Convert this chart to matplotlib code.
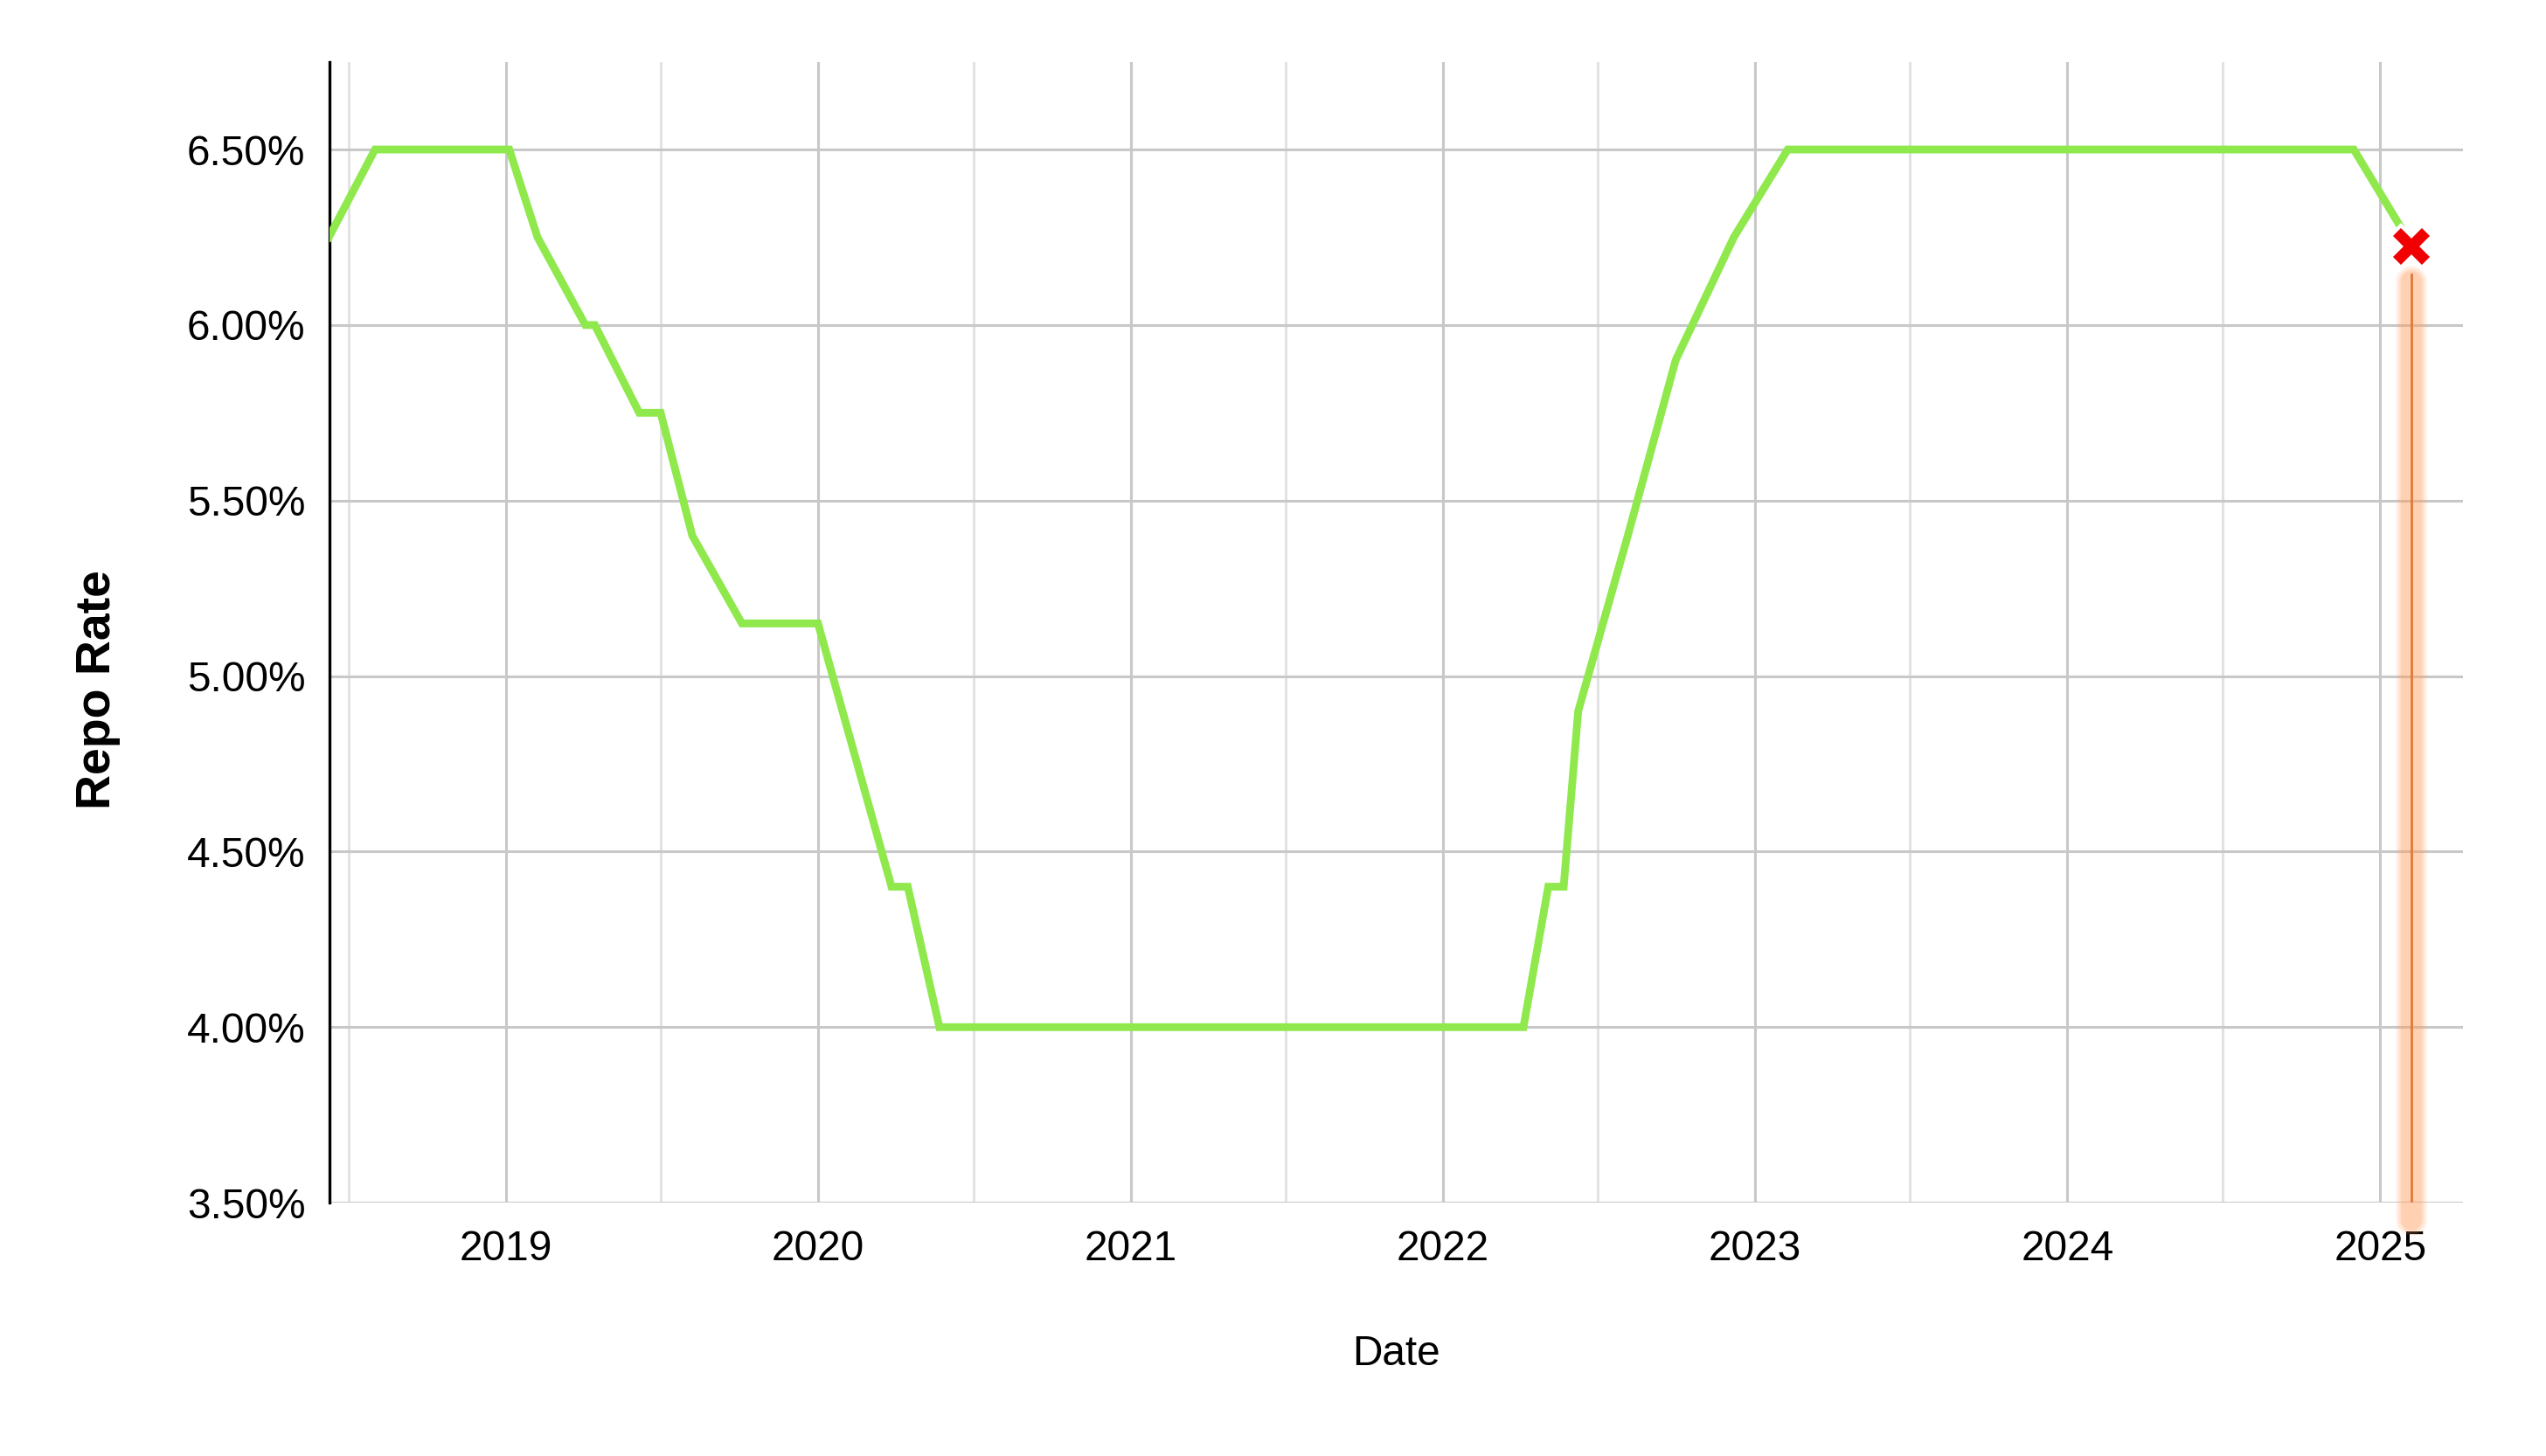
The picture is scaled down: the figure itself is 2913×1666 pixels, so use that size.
import datetime as dt
import matplotlib as mpl
import matplotlib.pyplot as plt
import matplotlib.dates as mdates
from matplotlib.ticker import FuncFormatter, MultipleLocator

mpl.rcParams["font.family"] = ["Liberation Sans", "DejaVu Sans"]

# ===== data =====
dates = ["2018-06-08", "2018-08-01", "2019-01-05", "2019-02-07", "2019-04-04",
         "2019-04-15", "2019-06-06", "2019-07-01", "2019-08-07", "2019-10-04",
         "2020-01-01", "2020-03-27", "2020-04-15", "2020-05-22", "2022-04-05",
         "2022-05-04", "2022-05-22", "2022-06-08", "2022-08-05", "2022-09-30",
         "2022-12-07", "2023-02-08", "2024-12-01", "2025-02-01"]
repo_rate = [6.25, 6.50, 6.50, 6.25, 6.00,
             6.00, 5.75, 5.75, 5.40, 5.15,
             5.15, 4.40, 4.40, 4.00, 4.00,
             4.40, 4.40, 4.90, 5.40, 5.90,
             6.25, 6.50, 6.50, 6.25]
marker_date = "2025-02-06"
marker_rate = 6.225

# ===== params =====
c_line = "#8fe84c"
c_grid_major = "#c8c8c8"
c_grid_minor = "#e2e2e2"
c_glow = "#ff9f5a"
c_vline = "#e0783a"
tick_size = 17.2

xx = [dt.datetime.strptime(d, "%Y-%m-%d") for d in dates]
xm = dt.datetime.strptime(marker_date, "%Y-%m-%d")
ymin, ymax = 3.5, 6.75

fig = plt.figure(figsize=(14.565, 8.33), dpi=200)
ax = fig.add_axes([0.1295, 0.174, 0.838, 0.7836])

# ===== grid =====
ax.xaxis.set_major_locator(mdates.YearLocator())
ax.xaxis.set_minor_locator(mdates.MonthLocator(bymonth=7))
ax.xaxis.set_major_formatter(mdates.DateFormatter("%Y"))
ax.yaxis.set_major_locator(MultipleLocator(0.5))
ax.yaxis.set_major_formatter(FuncFormatter(lambda v, p: f"{v:.2f}%"))
ax.grid(True, which="major", axis="x", color=c_grid_major, lw=1.1)
ax.grid(True, which="minor", axis="x", color=c_grid_minor, lw=1.1)
ax.grid(True, which="major", axis="y", color=c_grid_major, lw=1.1)
ax.set_axisbelow(True)

# ===== glow line at last point =====
for w, a in [(13, 0.10), (11.5, 0.12), (10, 0.15), (8.5, 0.2)]:
    ax.plot([xm, xm], [ymin - 0.05, marker_rate - 0.1], color=c_glow, lw=w,
            alpha=a, solid_capstyle="round", zorder=3, clip_on=False)
ax.plot([xm, xm], [ymin, marker_rate - 0.08], color=c_vline, lw=1.0, zorder=4)

# ===== series =====
ax.plot(xx, repo_rate, color=c_line, lw=3.2, zorder=5, solid_joinstyle="miter")
ax.plot([xm], [marker_rate], marker="X", ms=17, color="#f00000",
        markeredgecolor="white", markeredgewidth=1.5, zorder=6)

# ===== axes =====
ax.set_xlim(dt.datetime(2018, 6, 9), dt.datetime(2025, 4, 8))
ax.set_ylim(ymin, ymax)
for s in ["top", "right", "bottom"]:
    ax.spines[s].set_visible(False)
ax.spines["left"].set_color("black")
ax.spines["left"].set_linewidth(1.2)
ax.tick_params(axis="both", which="both", length=0, labelsize=tick_size,
               colors="black")
ax.tick_params(axis="x", pad=11)
ax.tick_params(axis="y", pad=10)

ax.set_xlabel("Date", fontsize=tick_size, labelpad=27)
ax.set_ylabel("Repo Rate", fontsize=20, fontweight="bold")
ax.yaxis.set_label_coords(-0.098, 0.45)

plt.savefig("out.png", dpi=200)
